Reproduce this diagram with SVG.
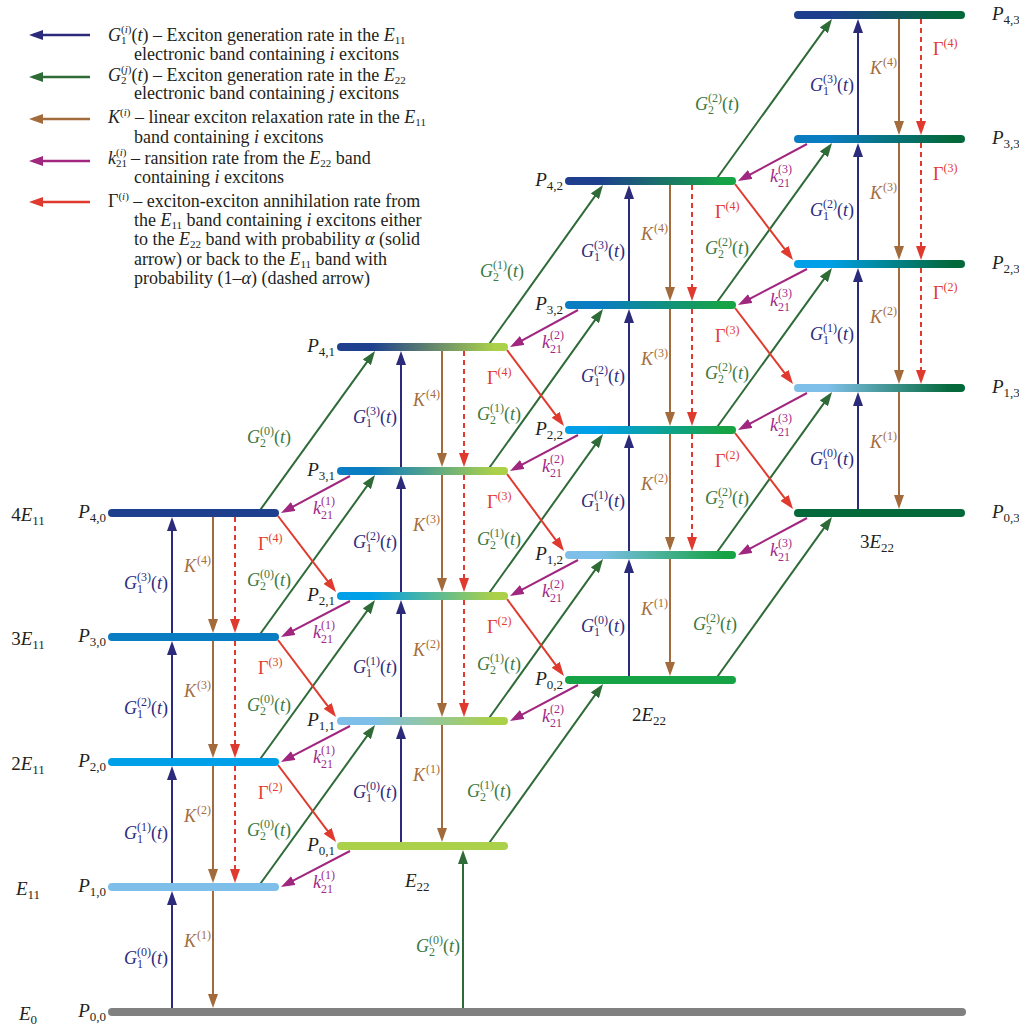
<svg xmlns="http://www.w3.org/2000/svg" width="1019" height="1028" viewBox="0 0 1019 1028">
<style>
.txt{font-family:"Liberation Serif","Times New Roman",serif;font-size:18px;fill:#231f20}
.it{font-style:italic}
.sm{font-size:12px}
.ls{font-size:11px}
.sm2{font-size:13px}
.lvl{font-size:19px}
.cG1{fill:#2e2c7e}.cG2{fill:#3b7a43}.cK{fill:#a36d3d}.ck{fill:#a02a86}.cR{fill:#e23a30}
.a{fill:none;stroke-width:2}
.g1{stroke:#2c2a7a;marker-end:url(#mG1)}
.g2{stroke:#2e6b37;marker-end:url(#mG2)}
.k{stroke:#a36b3b;marker-end:url(#mK)}
.m{stroke:#a02680;marker-end:url(#mM)}
.r{stroke:#e03a2e;marker-end:url(#mR)}
.d{stroke:#e03a2e;stroke-dasharray:5 4;marker-end:url(#mR)}
.lg{stroke-width:2.5}
</style>
<defs>
<marker id="mG1" markerUnits="userSpaceOnUse" markerWidth="14" markerHeight="10" refX="10" refY="5" orient="auto"><path d="M0,0 L14,5 L0,10 z" fill="#2c2a7a"/></marker>
<marker id="mG2" markerUnits="userSpaceOnUse" markerWidth="14" markerHeight="10" refX="10" refY="5" orient="auto"><path d="M0,0 L14,5 L0,10 z" fill="#2e6b37"/></marker>
<marker id="mK" markerUnits="userSpaceOnUse" markerWidth="14" markerHeight="10" refX="10" refY="5" orient="auto"><path d="M0,0 L14,5 L0,10 z" fill="#a36b3b"/></marker>
<marker id="mM" markerUnits="userSpaceOnUse" markerWidth="14" markerHeight="10" refX="10" refY="5" orient="auto"><path d="M0,0 L14,5 L0,10 z" fill="#a02680"/></marker>
<marker id="mR" markerUnits="userSpaceOnUse" markerWidth="14" markerHeight="10" refX="10" refY="5" orient="auto"><path d="M0,0 L14,5 L0,10 z" fill="#e03a2e"/></marker>
<linearGradient id="g11"><stop offset="0.2" stop-color="#7dbfe8"/><stop offset="0.92" stop-color="#abd04a"/></linearGradient>
<linearGradient id="g21"><stop offset="0.2" stop-color="#00a0e9"/><stop offset="0.92" stop-color="#abd04a"/></linearGradient>
<linearGradient id="g31"><stop offset="0.2" stop-color="#0a7cc2"/><stop offset="0.92" stop-color="#abd04a"/></linearGradient>
<linearGradient id="g41"><stop offset="0.2" stop-color="#1d3f8e"/><stop offset="0.92" stop-color="#abd04a"/></linearGradient>
<linearGradient id="g12"><stop offset="0.2" stop-color="#7dbfe8"/><stop offset="0.92" stop-color="#16a346"/></linearGradient>
<linearGradient id="g22"><stop offset="0.2" stop-color="#00a0e9"/><stop offset="0.92" stop-color="#16a346"/></linearGradient>
<linearGradient id="g32"><stop offset="0.2" stop-color="#0a7cc2"/><stop offset="0.92" stop-color="#16a346"/></linearGradient>
<linearGradient id="g42"><stop offset="0.2" stop-color="#1d3f8e"/><stop offset="0.92" stop-color="#16a346"/></linearGradient>
<linearGradient id="g13"><stop offset="0.2" stop-color="#7dbfe8"/><stop offset="0.92" stop-color="#04693a"/></linearGradient>
<linearGradient id="g23"><stop offset="0.2" stop-color="#00a0e9"/><stop offset="0.92" stop-color="#04693a"/></linearGradient>
<linearGradient id="g33"><stop offset="0.2" stop-color="#0a7cc2"/><stop offset="0.92" stop-color="#04693a"/></linearGradient>
<linearGradient id="g43"><stop offset="0.2" stop-color="#1d3f8e"/><stop offset="0.92" stop-color="#04693a"/></linearGradient>
</defs>
<rect width="1019" height="1028" fill="#ffffff"/>

<g id="legend">
<line class="a lg g1" x1="90" y1="35" x2="33" y2="35"/>
<line class="a lg g2" x1="90" y1="77" x2="33" y2="77"/>
<line class="a lg k" x1="90" y1="119" x2="33" y2="119"/>
<line class="a lg m" x1="90" y1="161" x2="33" y2="161"/>
<line class="a lg r" x1="90" y1="202" x2="33" y2="202"/>
<text class="txt" x="108" y="41"><tspan class="it">G</tspan><tspan class="ls" dy="3">1</tspan><tspan class="ls" dx="-5.5" dy="-11">(<tspan class="it">i</tspan>)</tspan><tspan dy="8">(<tspan class="it">t</tspan>) – Exciton generation rate in the </tspan><tspan class="it">E</tspan><tspan class="ls" dy="3">11</tspan></text>
<text class="txt" x="134" y="60">electronic band containing <tspan class="it">i</tspan> excitons</text>
<text class="txt" x="108" y="81"><tspan class="it">G</tspan><tspan class="ls" dy="3">2</tspan><tspan class="ls" dx="-5.5" dy="-11">(<tspan class="it">j</tspan>)</tspan><tspan dy="8">(<tspan class="it">t</tspan>) – Exciton generation rate in the </tspan><tspan class="it">E</tspan><tspan class="ls" dy="3">22</tspan></text>
<text class="txt" x="134" y="99">electronic band containing <tspan class="it">j</tspan> excitons</text>
<text class="txt" x="108" y="123"><tspan class="it">K</tspan><tspan class="ls" dy="-7">(<tspan class="it">i</tspan>)</tspan><tspan dy="7"> – linear exciton relaxation rate in the </tspan><tspan class="it">E</tspan><tspan class="ls" dy="3">11</tspan></text>
<text class="txt" x="134" y="143">band containing <tspan class="it">i</tspan> excitons</text>
<text class="txt" x="108" y="164"><tspan class="it">k</tspan><tspan class="ls" dy="3">21</tspan><tspan class="ls" dx="-11" dy="-11">(<tspan class="it">i</tspan>)</tspan><tspan dy="8"> – ransition rate from the </tspan><tspan class="it">E</tspan><tspan class="ls" dy="3">22</tspan><tspan dy="-3"> band</tspan></text>
<text class="txt" x="134" y="183">containing <tspan class="it">i</tspan> excitons</text>
<text class="txt" x="108" y="207">Γ<tspan class="ls" dy="-7">(<tspan class="it">i</tspan>)</tspan><tspan dy="7"> – exciton-exciton annihilation rate from</tspan></text>
<text class="txt" x="134" y="226">the <tspan class="it">E</tspan><tspan class="ls" dy="3">11</tspan><tspan dy="-3"> band containing </tspan><tspan class="it">i</tspan> excitons either</text>
<text class="txt" x="134" y="245">to the <tspan class="it">E</tspan><tspan class="ls" dy="3">22</tspan><tspan dy="-3"> band with probability </tspan><tspan class="it">α</tspan> (solid</text>
<text class="txt" x="134" y="265">arrow) or back to the <tspan class="it">E</tspan><tspan class="ls" dy="3">11</tspan><tspan dy="-3"> band with</tspan></text>
<text class="txt" x="134" y="284">probability (1–<tspan class="it">α</tspan>) (dashed arrow)</text>
</g>

<g id="connectors">
<line class="a g1" x1="172" y1="1012" x2="172" y2="895"/>
<line class="a g1" x1="172" y1="887" x2="172" y2="770"/>
<line class="a g1" x1="172" y1="762" x2="172" y2="645"/>
<line class="a g1" x1="172" y1="637" x2="172" y2="521"/>
<line class="a g1" x1="401" y1="846" x2="401" y2="729"/>
<line class="a g1" x1="401" y1="721" x2="401" y2="604"/>
<line class="a g1" x1="401" y1="596" x2="401" y2="479"/>
<line class="a g1" x1="401" y1="471" x2="401" y2="355"/>
<line class="a g1" x1="629" y1="680" x2="629" y2="563"/>
<line class="a g1" x1="629" y1="555" x2="629" y2="438"/>
<line class="a g1" x1="629" y1="430" x2="629" y2="313"/>
<line class="a g1" x1="629" y1="305" x2="629" y2="189"/>
<line class="a g1" x1="858" y1="513" x2="858" y2="396"/>
<line class="a g1" x1="858" y1="388" x2="858" y2="272"/>
<line class="a g1" x1="858" y1="264" x2="858" y2="147"/>
<line class="a g1" x1="858" y1="139" x2="858" y2="23"/>
<line class="a k" x1="213" y1="887" x2="213" y2="1004"/>
<line class="a k" x1="213" y1="762" x2="213" y2="879"/>
<line class="a k" x1="213" y1="637" x2="213" y2="754"/>
<line class="a k" x1="213" y1="513" x2="213" y2="629"/>
<line class="a k" x1="442" y1="721" x2="442" y2="838"/>
<line class="a k" x1="442" y1="596" x2="442" y2="713"/>
<line class="a k" x1="442" y1="471" x2="442" y2="588"/>
<line class="a k" x1="442" y1="347" x2="442" y2="463"/>
<line class="a k" x1="670" y1="555" x2="670" y2="672"/>
<line class="a k" x1="670" y1="430" x2="670" y2="547"/>
<line class="a k" x1="670" y1="305" x2="670" y2="422"/>
<line class="a k" x1="670" y1="181" x2="670" y2="297"/>
<line class="a k" x1="899" y1="388" x2="899" y2="505"/>
<line class="a k" x1="899" y1="264" x2="899" y2="380"/>
<line class="a k" x1="899" y1="139" x2="899" y2="256"/>
<line class="a k" x1="899" y1="15" x2="899" y2="131"/>
<line class="a d" x1="235" y1="517" x2="235" y2="629"/>
<line class="a d" x1="235" y1="641" x2="235" y2="754"/>
<line class="a d" x1="235" y1="766" x2="235" y2="879"/>
<line class="a d" x1="464" y1="351" x2="464" y2="463"/>
<line class="a d" x1="464" y1="475" x2="464" y2="588"/>
<line class="a d" x1="464" y1="600" x2="464" y2="713"/>
<line class="a d" x1="692" y1="185" x2="692" y2="297"/>
<line class="a d" x1="692" y1="309" x2="692" y2="422"/>
<line class="a d" x1="692" y1="434" x2="692" y2="547"/>
<line class="a d" x1="921" y1="19" x2="921" y2="131"/>
<line class="a d" x1="921" y1="143" x2="921" y2="256"/>
<line class="a d" x1="921" y1="268" x2="921" y2="380"/>
<line class="a g2" x1="463" y1="1012" x2="463" y2="854"/>
<line class="a g2" x1="258" y1="887" x2="372.7" y2="728.2"/>
<line class="a g2" x1="258" y1="762" x2="372.7" y2="603.2"/>
<line class="a g2" x1="258" y1="637" x2="372.7" y2="478.2"/>
<line class="a g2" x1="258" y1="513" x2="372.7" y2="354.2"/>
<line class="a g2" x1="487" y1="846" x2="600.7" y2="687.2"/>
<line class="a g2" x1="487" y1="721" x2="600.7" y2="562.2"/>
<line class="a g2" x1="487" y1="596" x2="600.7" y2="437.2"/>
<line class="a g2" x1="487" y1="471" x2="600.7" y2="312.2"/>
<line class="a g2" x1="487" y1="347" x2="600.7" y2="188.2"/>
<line class="a g2" x1="715" y1="680" x2="829.7" y2="520.2"/>
<line class="a g2" x1="715" y1="555" x2="829.7" y2="395.2"/>
<line class="a g2" x1="715" y1="430" x2="829.7" y2="271.2"/>
<line class="a g2" x1="715" y1="305" x2="829.7" y2="146.2"/>
<line class="a g2" x1="715" y1="181" x2="829.7" y2="22.2"/>
<line class="a m" x1="350" y1="851" x2="284.5" y2="885.2"/>
<line class="a m" x1="350" y1="726" x2="284.5" y2="760.2"/>
<line class="a m" x1="350" y1="601" x2="284.5" y2="635.2"/>
<line class="a m" x1="350" y1="476" x2="284.5" y2="511.2"/>
<line class="a m" x1="578" y1="685" x2="513.5" y2="719.2"/>
<line class="a m" x1="578" y1="560" x2="513.5" y2="594.2"/>
<line class="a m" x1="578" y1="435" x2="513.5" y2="469.2"/>
<line class="a m" x1="578" y1="310" x2="513.5" y2="345.2"/>
<line class="a m" x1="807" y1="518" x2="741.5" y2="553.2"/>
<line class="a m" x1="807" y1="393" x2="741.5" y2="428.2"/>
<line class="a m" x1="807" y1="269" x2="741.5" y2="303.2"/>
<line class="a m" x1="807" y1="144" x2="741.5" y2="179.2"/>
<line class="a r" x1="278" y1="765" x2="333.6" y2="838.8"/>
<line class="a r" x1="278" y1="640" x2="333.6" y2="713.8"/>
<line class="a r" x1="278" y1="516" x2="333.6" y2="588.8"/>
<line class="a r" x1="507" y1="599" x2="561.6" y2="672.8"/>
<line class="a r" x1="507" y1="474" x2="561.6" y2="547.8"/>
<line class="a r" x1="507" y1="350" x2="561.6" y2="422.8"/>
<line class="a r" x1="735" y1="433" x2="790.6" y2="505.8"/>
<line class="a r" x1="735" y1="308" x2="790.6" y2="380.8"/>
<line class="a r" x1="735" y1="184" x2="790.6" y2="256.8"/>
</g>

<g id="connector-labels">
<text class="txt cG1" x="168" y="963.5" text-anchor="end"><tspan class="it">G</tspan><tspan class="sm" dy="4">1</tspan><tspan class="sm" dx="-6" dy="-12">(0)</tspan><tspan dy="8">(<tspan class="it">t</tspan>)</tspan></text>
<text class="txt cG1" x="168" y="838.5" text-anchor="end"><tspan class="it">G</tspan><tspan class="sm" dy="4">1</tspan><tspan class="sm" dx="-6" dy="-12">(1)</tspan><tspan dy="8">(<tspan class="it">t</tspan>)</tspan></text>
<text class="txt cG1" x="168" y="713.5" text-anchor="end"><tspan class="it">G</tspan><tspan class="sm" dy="4">1</tspan><tspan class="sm" dx="-6" dy="-12">(2)</tspan><tspan dy="8">(<tspan class="it">t</tspan>)</tspan></text>
<text class="txt cG1" x="168" y="589" text-anchor="end"><tspan class="it">G</tspan><tspan class="sm" dy="4">1</tspan><tspan class="sm" dx="-6" dy="-12">(3)</tspan><tspan dy="8">(<tspan class="it">t</tspan>)</tspan></text>
<text class="txt cG1" x="397" y="797.5" text-anchor="end"><tspan class="it">G</tspan><tspan class="sm" dy="4">1</tspan><tspan class="sm" dx="-6" dy="-12">(0)</tspan><tspan dy="8">(<tspan class="it">t</tspan>)</tspan></text>
<text class="txt cG1" x="397" y="672.5" text-anchor="end"><tspan class="it">G</tspan><tspan class="sm" dy="4">1</tspan><tspan class="sm" dx="-6" dy="-12">(1)</tspan><tspan dy="8">(<tspan class="it">t</tspan>)</tspan></text>
<text class="txt cG1" x="397" y="547.5" text-anchor="end"><tspan class="it">G</tspan><tspan class="sm" dy="4">1</tspan><tspan class="sm" dx="-6" dy="-12">(2)</tspan><tspan dy="8">(<tspan class="it">t</tspan>)</tspan></text>
<text class="txt cG1" x="397" y="423" text-anchor="end"><tspan class="it">G</tspan><tspan class="sm" dy="4">1</tspan><tspan class="sm" dx="-6" dy="-12">(3)</tspan><tspan dy="8">(<tspan class="it">t</tspan>)</tspan></text>
<text class="txt cG1" x="625" y="631.5" text-anchor="end"><tspan class="it">G</tspan><tspan class="sm" dy="4">1</tspan><tspan class="sm" dx="-6" dy="-12">(0)</tspan><tspan dy="8">(<tspan class="it">t</tspan>)</tspan></text>
<text class="txt cG1" x="625" y="506.5" text-anchor="end"><tspan class="it">G</tspan><tspan class="sm" dy="4">1</tspan><tspan class="sm" dx="-6" dy="-12">(1)</tspan><tspan dy="8">(<tspan class="it">t</tspan>)</tspan></text>
<text class="txt cG1" x="625" y="381.5" text-anchor="end"><tspan class="it">G</tspan><tspan class="sm" dy="4">1</tspan><tspan class="sm" dx="-6" dy="-12">(2)</tspan><tspan dy="8">(<tspan class="it">t</tspan>)</tspan></text>
<text class="txt cG1" x="625" y="257" text-anchor="end"><tspan class="it">G</tspan><tspan class="sm" dy="4">1</tspan><tspan class="sm" dx="-6" dy="-12">(3)</tspan><tspan dy="8">(<tspan class="it">t</tspan>)</tspan></text>
<text class="txt cG1" x="854" y="464.5" text-anchor="end"><tspan class="it">G</tspan><tspan class="sm" dy="4">1</tspan><tspan class="sm" dx="-6" dy="-12">(0)</tspan><tspan dy="8">(<tspan class="it">t</tspan>)</tspan></text>
<text class="txt cG1" x="854" y="340" text-anchor="end"><tspan class="it">G</tspan><tspan class="sm" dy="4">1</tspan><tspan class="sm" dx="-6" dy="-12">(1)</tspan><tspan dy="8">(<tspan class="it">t</tspan>)</tspan></text>
<text class="txt cG1" x="854" y="215.5" text-anchor="end"><tspan class="it">G</tspan><tspan class="sm" dy="4">1</tspan><tspan class="sm" dx="-6" dy="-12">(2)</tspan><tspan dy="8">(<tspan class="it">t</tspan>)</tspan></text>
<text class="txt cG1" x="854" y="91" text-anchor="end"><tspan class="it">G</tspan><tspan class="sm" dy="4">1</tspan><tspan class="sm" dx="-6" dy="-12">(3)</tspan><tspan dy="8">(<tspan class="it">t</tspan>)</tspan></text>
<text class="txt cK" x="211" y="946.5" text-anchor="end"><tspan class="it">K</tspan><tspan class="sm" dx="1" dy="-8">(1)</tspan></text>
<text class="txt cK" x="211" y="821.5" text-anchor="end"><tspan class="it">K</tspan><tspan class="sm" dx="1" dy="-8">(2)</tspan></text>
<text class="txt cK" x="211" y="696.5" text-anchor="end"><tspan class="it">K</tspan><tspan class="sm" dx="1" dy="-8">(3)</tspan></text>
<text class="txt cK" x="211" y="572" text-anchor="end"><tspan class="it">K</tspan><tspan class="sm" dx="1" dy="-8">(4)</tspan></text>
<text class="txt cK" x="440" y="780.5" text-anchor="end"><tspan class="it">K</tspan><tspan class="sm" dx="1" dy="-8">(1)</tspan></text>
<text class="txt cK" x="440" y="655.5" text-anchor="end"><tspan class="it">K</tspan><tspan class="sm" dx="1" dy="-8">(2)</tspan></text>
<text class="txt cK" x="440" y="530.5" text-anchor="end"><tspan class="it">K</tspan><tspan class="sm" dx="1" dy="-8">(3)</tspan></text>
<text class="txt cK" x="440" y="406" text-anchor="end"><tspan class="it">K</tspan><tspan class="sm" dx="1" dy="-8">(4)</tspan></text>
<text class="txt cK" x="668" y="614.5" text-anchor="end"><tspan class="it">K</tspan><tspan class="sm" dx="1" dy="-8">(1)</tspan></text>
<text class="txt cK" x="668" y="489.5" text-anchor="end"><tspan class="it">K</tspan><tspan class="sm" dx="1" dy="-8">(2)</tspan></text>
<text class="txt cK" x="668" y="364.5" text-anchor="end"><tspan class="it">K</tspan><tspan class="sm" dx="1" dy="-8">(3)</tspan></text>
<text class="txt cK" x="668" y="240" text-anchor="end"><tspan class="it">K</tspan><tspan class="sm" dx="1" dy="-8">(4)</tspan></text>
<text class="txt cK" x="897" y="447.5" text-anchor="end"><tspan class="it">K</tspan><tspan class="sm" dx="1" dy="-8">(1)</tspan></text>
<text class="txt cK" x="897" y="323" text-anchor="end"><tspan class="it">K</tspan><tspan class="sm" dx="1" dy="-8">(2)</tspan></text>
<text class="txt cK" x="897" y="198.5" text-anchor="end"><tspan class="it">K</tspan><tspan class="sm" dx="1" dy="-8">(3)</tspan></text>
<text class="txt cK" x="897" y="74" text-anchor="end"><tspan class="it">K</tspan><tspan class="sm" dx="1" dy="-8">(4)</tspan></text>
<text class="txt cR" x="933" y="55">Γ<tspan class="sm" dy="-8">(4)</tspan></text>
<text class="txt cR" x="933" y="180">Γ<tspan class="sm" dy="-8">(3)</tspan></text>
<text class="txt cR" x="933" y="299">Γ<tspan class="sm" dy="-8">(2)</tspan></text>
<text class="txt cR" x="258" y="799">Γ<tspan class="sm" dy="-8">(2)</tspan></text>
<text class="txt cR" x="258" y="674">Γ<tspan class="sm" dy="-8">(3)</tspan></text>
<text class="txt cR" x="258" y="550">Γ<tspan class="sm" dy="-8">(4)</tspan></text>
<text class="txt cR" x="487" y="633">Γ<tspan class="sm" dy="-8">(2)</tspan></text>
<text class="txt cR" x="487" y="508">Γ<tspan class="sm" dy="-8">(3)</tspan></text>
<text class="txt cR" x="487" y="384">Γ<tspan class="sm" dy="-8">(4)</tspan></text>
<text class="txt cR" x="715" y="467">Γ<tspan class="sm" dy="-8">(2)</tspan></text>
<text class="txt cR" x="715" y="342">Γ<tspan class="sm" dy="-8">(3)</tspan></text>
<text class="txt cR" x="715" y="218">Γ<tspan class="sm" dy="-8">(4)</tspan></text>
<text class="txt ck" x="313" y="888"><tspan class="it">k</tspan><tspan class="sm" dy="5">21</tspan><tspan class="sm" dx="-12" dy="-14">(1)</tspan></text>
<text class="txt ck" x="313" y="763"><tspan class="it">k</tspan><tspan class="sm" dy="5">21</tspan><tspan class="sm" dx="-12" dy="-14">(1)</tspan></text>
<text class="txt ck" x="313" y="638"><tspan class="it">k</tspan><tspan class="sm" dy="5">21</tspan><tspan class="sm" dx="-12" dy="-14">(1)</tspan></text>
<text class="txt ck" x="313" y="514"><tspan class="it">k</tspan><tspan class="sm" dy="5">21</tspan><tspan class="sm" dx="-12" dy="-14">(1)</tspan></text>
<text class="txt ck" x="542" y="722"><tspan class="it">k</tspan><tspan class="sm" dy="5">21</tspan><tspan class="sm" dx="-12" dy="-14">(2)</tspan></text>
<text class="txt ck" x="542" y="597"><tspan class="it">k</tspan><tspan class="sm" dy="5">21</tspan><tspan class="sm" dx="-12" dy="-14">(2)</tspan></text>
<text class="txt ck" x="542" y="472"><tspan class="it">k</tspan><tspan class="sm" dy="5">21</tspan><tspan class="sm" dx="-12" dy="-14">(2)</tspan></text>
<text class="txt ck" x="542" y="348"><tspan class="it">k</tspan><tspan class="sm" dy="5">21</tspan><tspan class="sm" dx="-12" dy="-14">(2)</tspan></text>
<text class="txt ck" x="770" y="556"><tspan class="it">k</tspan><tspan class="sm" dy="5">21</tspan><tspan class="sm" dx="-12" dy="-14">(3)</tspan></text>
<text class="txt ck" x="770" y="431"><tspan class="it">k</tspan><tspan class="sm" dy="5">21</tspan><tspan class="sm" dx="-12" dy="-14">(3)</tspan></text>
<text class="txt ck" x="770" y="306"><tspan class="it">k</tspan><tspan class="sm" dy="5">21</tspan><tspan class="sm" dx="-12" dy="-14">(3)</tspan></text>
<text class="txt ck" x="770" y="182"><tspan class="it">k</tspan><tspan class="sm" dy="5">21</tspan><tspan class="sm" dx="-12" dy="-14">(3)</tspan></text>
<text class="txt cG2" x="460" y="952" text-anchor="end"><tspan class="it">G</tspan><tspan class="sm" dy="4">2</tspan><tspan class="sm" dx="-6" dy="-12">(0)</tspan><tspan dy="8">(<tspan class="it">t</tspan>)</tspan></text>
<text class="txt cG2" x="247" y="836"><tspan class="it">G</tspan><tspan class="sm" dy="4">2</tspan><tspan class="sm" dx="-6" dy="-12">(0)</tspan><tspan dy="8">(<tspan class="it">t</tspan>)</tspan></text>
<text class="txt cG2" x="247" y="711"><tspan class="it">G</tspan><tspan class="sm" dy="4">2</tspan><tspan class="sm" dx="-6" dy="-12">(0)</tspan><tspan dy="8">(<tspan class="it">t</tspan>)</tspan></text>
<text class="txt cG2" x="247" y="586"><tspan class="it">G</tspan><tspan class="sm" dy="4">2</tspan><tspan class="sm" dx="-6" dy="-12">(0)</tspan><tspan dy="8">(<tspan class="it">t</tspan>)</tspan></text>
<text class="txt cG2" x="247" y="443"><tspan class="it">G</tspan><tspan class="sm" dy="4">2</tspan><tspan class="sm" dx="-6" dy="-12">(0)</tspan><tspan dy="8">(<tspan class="it">t</tspan>)</tspan></text>
<text class="txt cG2" x="467" y="797"><tspan class="it">G</tspan><tspan class="sm" dy="4">2</tspan><tspan class="sm" dx="-6" dy="-12">(1)</tspan><tspan dy="8">(<tspan class="it">t</tspan>)</tspan></text>
<text class="txt cG2" x="477" y="670"><tspan class="it">G</tspan><tspan class="sm" dy="4">2</tspan><tspan class="sm" dx="-6" dy="-12">(1)</tspan><tspan dy="8">(<tspan class="it">t</tspan>)</tspan></text>
<text class="txt cG2" x="477" y="545"><tspan class="it">G</tspan><tspan class="sm" dy="4">2</tspan><tspan class="sm" dx="-6" dy="-12">(1)</tspan><tspan dy="8">(<tspan class="it">t</tspan>)</tspan></text>
<text class="txt cG2" x="477" y="420"><tspan class="it">G</tspan><tspan class="sm" dy="4">2</tspan><tspan class="sm" dx="-6" dy="-12">(1)</tspan><tspan dy="8">(<tspan class="it">t</tspan>)</tspan></text>
<text class="txt cG2" x="480" y="277"><tspan class="it">G</tspan><tspan class="sm" dy="4">2</tspan><tspan class="sm" dx="-6" dy="-12">(1)</tspan><tspan dy="8">(<tspan class="it">t</tspan>)</tspan></text>
<text class="txt cG2" x="693" y="630"><tspan class="it">G</tspan><tspan class="sm" dy="4">2</tspan><tspan class="sm" dx="-6" dy="-12">(2)</tspan><tspan dy="8">(<tspan class="it">t</tspan>)</tspan></text>
<text class="txt cG2" x="705" y="504"><tspan class="it">G</tspan><tspan class="sm" dy="4">2</tspan><tspan class="sm" dx="-6" dy="-12">(2)</tspan><tspan dy="8">(<tspan class="it">t</tspan>)</tspan></text>
<text class="txt cG2" x="705" y="379"><tspan class="it">G</tspan><tspan class="sm" dy="4">2</tspan><tspan class="sm" dx="-6" dy="-12">(2)</tspan><tspan dy="8">(<tspan class="it">t</tspan>)</tspan></text>
<text class="txt cG2" x="705" y="254"><tspan class="it">G</tspan><tspan class="sm" dy="4">2</tspan><tspan class="sm" dx="-6" dy="-12">(2)</tspan><tspan dy="8">(<tspan class="it">t</tspan>)</tspan></text>
<text class="txt cG2" x="695" y="110"><tspan class="it">G</tspan><tspan class="sm" dy="4">2</tspan><tspan class="sm" dx="-6" dy="-12">(2)</tspan><tspan dy="8">(<tspan class="it">t</tspan>)</tspan></text>
</g>

<g id="P0_0"><rect x="108" y="1008" width="858" height="8" rx="4" fill="#808080"/><text class="txt lvl" x="106" y="1017" text-anchor="end"><tspan class="it">P</tspan><tspan class="sm2" dy="4">0,0</tspan></text><text class="txt lvl" x="28" y="1020" text-anchor="middle"><tspan class="it">E</tspan><tspan class="sm2" dy="4">0</tspan></text></g>
<g id="P1_0"><rect x="108" y="883" width="171" height="8" rx="4" fill="#7dbfe8"/><text class="txt lvl" x="106" y="892" text-anchor="end"><tspan class="it">P</tspan><tspan class="sm2" dy="4">1,0</tspan></text><text class="txt lvl" x="28" y="895" text-anchor="middle"><tspan class="it">E</tspan><tspan class="sm2" dy="4">11</tspan></text></g>
<g id="P2_0"><rect x="108" y="758" width="171" height="8" rx="4" fill="#00a0e9"/><text class="txt lvl" x="106" y="767" text-anchor="end"><tspan class="it">P</tspan><tspan class="sm2" dy="4">2,0</tspan></text><text class="txt lvl" x="28" y="770" text-anchor="middle">2<tspan class="it">E</tspan><tspan class="sm2" dy="4">11</tspan></text></g>
<g id="P3_0"><rect x="108" y="633" width="171" height="8" rx="4" fill="#0a7cc2"/><text class="txt lvl" x="106" y="642" text-anchor="end"><tspan class="it">P</tspan><tspan class="sm2" dy="4">3,0</tspan></text><text class="txt lvl" x="28" y="645" text-anchor="middle">3<tspan class="it">E</tspan><tspan class="sm2" dy="4">11</tspan></text></g>
<g id="P4_0"><rect x="108" y="509" width="171" height="8" rx="4" fill="#1d3f8e"/><text class="txt lvl" x="106" y="518" text-anchor="end"><tspan class="it">P</tspan><tspan class="sm2" dy="4">4,0</tspan></text><text class="txt lvl" x="28" y="521" text-anchor="middle">4<tspan class="it">E</tspan><tspan class="sm2" dy="4">11</tspan></text></g>

<g id="P0_1"><rect x="337" y="842" width="171" height="8" rx="4" fill="#abd04a"/><text class="txt lvl" x="335" y="851" text-anchor="end"><tspan class="it">P</tspan><tspan class="sm2" dy="4">0,1</tspan></text><text class="txt lvl" x="405" y="887"><tspan class="it">E</tspan><tspan class="sm2" dy="4">22</tspan></text></g>
<g id="P1_1"><rect x="337" y="717" width="171" height="8" rx="4" fill="url(#g11)"/><text class="txt lvl" x="335" y="726" text-anchor="end"><tspan class="it">P</tspan><tspan class="sm2" dy="4">1,1</tspan></text></g>
<g id="P2_1"><rect x="337" y="592" width="171" height="8" rx="4" fill="url(#g21)"/><text class="txt lvl" x="335" y="601" text-anchor="end"><tspan class="it">P</tspan><tspan class="sm2" dy="4">2,1</tspan></text></g>
<g id="P3_1"><rect x="337" y="467" width="171" height="8" rx="4" fill="url(#g31)"/><text class="txt lvl" x="335" y="476" text-anchor="end"><tspan class="it">P</tspan><tspan class="sm2" dy="4">3,1</tspan></text></g>
<g id="P4_1"><rect x="337" y="343" width="171" height="8" rx="4" fill="url(#g41)"/><text class="txt lvl" x="335" y="352" text-anchor="end"><tspan class="it">P</tspan><tspan class="sm2" dy="4">4,1</tspan></text></g>

<g id="P0_2"><rect x="565" y="676" width="171" height="8" rx="4" fill="#16a346"/><text class="txt lvl" x="563" y="685" text-anchor="end"><tspan class="it">P</tspan><tspan class="sm2" dy="4">0,2</tspan></text><text class="txt lvl" x="632" y="721">2<tspan class="it">E</tspan><tspan class="sm2" dy="4">22</tspan></text></g>
<g id="P1_2"><rect x="565" y="551" width="171" height="8" rx="4" fill="url(#g12)"/><text class="txt lvl" x="563" y="560" text-anchor="end"><tspan class="it">P</tspan><tspan class="sm2" dy="4">1,2</tspan></text></g>
<g id="P2_2"><rect x="565" y="426" width="171" height="8" rx="4" fill="url(#g22)"/><text class="txt lvl" x="563" y="435" text-anchor="end"><tspan class="it">P</tspan><tspan class="sm2" dy="4">2,2</tspan></text></g>
<g id="P3_2"><rect x="565" y="301" width="171" height="8" rx="4" fill="url(#g32)"/><text class="txt lvl" x="563" y="310" text-anchor="end"><tspan class="it">P</tspan><tspan class="sm2" dy="4">3,2</tspan></text></g>
<g id="P4_2"><rect x="565" y="177" width="171" height="8" rx="4" fill="url(#g42)"/><text class="txt lvl" x="563" y="186" text-anchor="end"><tspan class="it">P</tspan><tspan class="sm2" dy="4">4,2</tspan></text></g>

<g id="P0_3"><rect x="794" y="509" width="171" height="8" rx="4" fill="#04693a"/><text class="txt lvl" x="992" y="518"><tspan class="it">P</tspan><tspan class="sm2" dy="4">0,3</tspan></text><text class="txt lvl" x="860" y="548">3<tspan class="it">E</tspan><tspan class="sm2" dy="4">22</tspan></text></g>
<g id="P1_3"><rect x="794" y="384" width="171" height="8" rx="4" fill="url(#g13)"/><text class="txt lvl" x="992" y="393"><tspan class="it">P</tspan><tspan class="sm2" dy="4">1,3</tspan></text></g>
<g id="P2_3"><rect x="794" y="260" width="171" height="8" rx="4" fill="url(#g23)"/><text class="txt lvl" x="992" y="269"><tspan class="it">P</tspan><tspan class="sm2" dy="4">2,3</tspan></text></g>
<g id="P3_3"><rect x="794" y="135" width="171" height="8" rx="4" fill="url(#g33)"/><text class="txt lvl" x="992" y="144"><tspan class="it">P</tspan><tspan class="sm2" dy="4">3,3</tspan></text></g>
<g id="P4_3"><rect x="794" y="11" width="171" height="8" rx="4" fill="url(#g43)"/><text class="txt lvl" x="992" y="20"><tspan class="it">P</tspan><tspan class="sm2" dy="4">4,3</tspan></text></g>
</svg>
